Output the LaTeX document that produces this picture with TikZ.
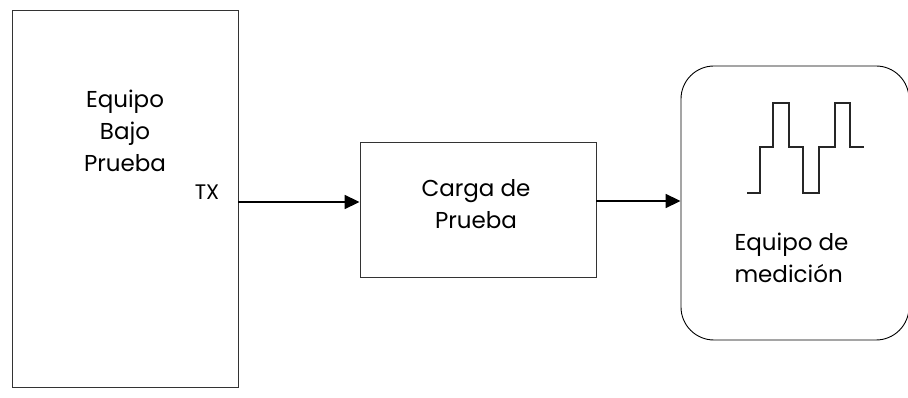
\documentclass[tikz,border=0pt]{standalone}
\usepackage{fontspec}
\setmainfont{Poppins}
\usetikzlibrary{arrows.meta}
\tikzset{
	caja/.style={draw=black!80,line width=0.9pt,inner sep=0pt},
	texto/.style={align=center,font=\fontsize{23}{32}\selectfont},
	flecha/.style={line width=1.8pt,-{Triangle[length=15pt,width=14pt]}}
}
\begin{document}
\begin{tikzpicture}[x=1pt,y=-1pt]
	\useasboundingbox (0,0) rectangle (908,398);
	\clip (0,0) rectangle (908,398);
	% bloques
	\node[caja,minimum width=226pt,minimum height=377pt] (eut) at (125,198.5) {};
	\node[texto] (eutt) at (125,131) {Equipo\\Bajo\\Prueba};
	\node[texto,font=\fontsize{21}{24}\selectfont] (tx) at (207,192) {TX};
	\node[caja,minimum width=236pt,minimum height=135pt] (carga) at (478,209.5) {};
	\node[texto] (cargat) at (476,204) {Carga de\\Prueba};
	\node[caja,draw=black,rounded corners=33pt,minimum width=228pt,minimum height=274pt] (med) at (795,203) {};
	\node[texto,align=left,anchor=west] (medt) at (731,258) {Equipo de\\medición};
	% conexiones
	\path (eut.east) ++(0,3.5) coordinate (a);
	\path (carga.east) ++(0,-8.5) coordinate (b);
	\draw[flecha] (a) -- (a -| carga.west);
	\draw[flecha] (b) -- (b -| med.west);
	% senal
	\draw[line width=1.6pt,black!85]
		(747,193) -- (760,193) -- (760,147) -- (773,147) -- (773,103) -- (789,103)
		-- (789,147) -- (803,147) -- (803,193) -- (819,193) -- (819,147)
		-- (835,147) -- (835,103) -- (850,103) -- (850,147) -- (864,147);
\end{tikzpicture}
\end{document}
